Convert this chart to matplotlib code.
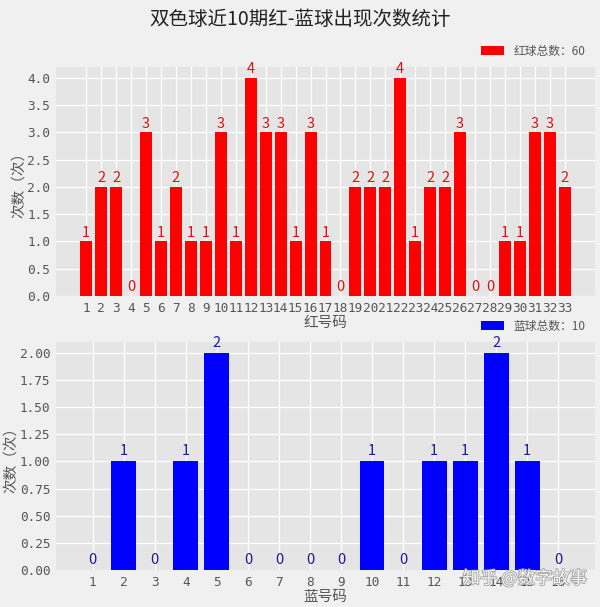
import matplotlib
matplotlib.use('Agg')
import matplotlib.pyplot as plt
import matplotlib.patheffects as pe
from matplotlib.ticker import FormatStrFormatter

plt.rcParams['font.family'] = ['Noto Sans CJK SC', 'DejaVu Sans']
plt.rcParams['axes.unicode_minus'] = False

# data
red_nums = list(range(1, 34))
red_counts = [1, 2, 2, 0, 3, 1, 2, 1, 1, 3, 1, 4, 3, 3, 1, 3, 1, 0, 2, 2,
              2, 4, 1, 2, 2, 3, 0, 0, 1, 1, 3, 3, 2]
blue_nums = list(range(1, 17))
blue_counts = [0, 1, 0, 1, 2, 0, 0, 0, 0, 1, 0, 1, 1, 2, 1, 0]

BG = '#f0f0f0'
AX_BG = '#e5e5e5'
TXT = '#555555'
TICK_FONT = ['DejaVu Sans Mono', 'Noto Sans CJK SC']


def style_axes(ax):
    ax.set_facecolor(AX_BG)
    for s in ax.spines.values():
        s.set_visible(False)
    ax.grid(True, color='white', linewidth=0.9)
    ax.set_axisbelow(True)
    ax.tick_params(length=0, colors=TXT, labelsize=9.2, pad=4)
    for lab in ax.get_xticklabels() + ax.get_yticklabels():
        lab.set_family(TICK_FONT)


def bar_panel(ax, nums, counts, color, txt_color, label, xlab, step, fmt):
    bars = ax.bar(nums, counts, width=0.8, color=color, label=label)
    for b, c in zip(bars, counts):
        ax.text(b.get_x() + b.get_width() / 2, c + 0.03, str(c),
                ha='center', va='bottom', fontsize=10.5, color=txt_color)
    ax.set_xticks(nums)
    ax.set_xticklabels([str(n) for n in nums])
    top = max(counts)
    ax.set_yticks([i * step for i in range(int(round(top / step)) + 1)])
    ax.yaxis.set_major_formatter(FormatStrFormatter(fmt))
    ax.set_ylim(0, top * 1.05)
    ax.set_xlabel(xlab, fontsize=10.5, color=TXT, labelpad=1)
    ax.set_ylabel('次数（次）', fontsize=10.5, color=TXT, labelpad=1)
    leg = ax.legend(loc='lower right', bbox_to_anchor=(1.0, 1.0), frameon=False,
                    fontsize=8.5, handlelength=2.0, borderaxespad=0.4)
    for t in leg.get_texts():
        t.set_color(TXT)
    style_axes(ax)


fig = plt.figure(figsize=(6.0, 6.07), dpi=100, facecolor=BG)
ax1 = fig.add_axes([0.093, 0.5124, 0.899, 0.3772])
ax2 = fig.add_axes([0.093, 0.061, 0.899, 0.3756])

bar_panel(ax1, red_nums, red_counts, '#ff0000', '#e01010',
          '红球总数：%d' % sum(red_counts), '红号码', 0.5, '%.1f')
bar_panel(ax2, blue_nums, blue_counts, '#0000ff', '#1a1a9a',
          '蓝球总数：%d' % sum(blue_counts), '蓝号码', 0.25, '%.2f')

fig.text(0.5, 0.968, '双色球近10期红-蓝球出现次数统计', ha='center', va='center',
         fontsize=14, color='#222222')

# watermark
fig.text(0.875, 0.047, '知乎 @数字故事', ha='center', va='center', fontsize=12.5,
         color='white', alpha=0.9,
         path_effects=[pe.withStroke(linewidth=1.2, foreground='#999999')])

fig.savefig('out.png', dpi=100, facecolor=BG)
